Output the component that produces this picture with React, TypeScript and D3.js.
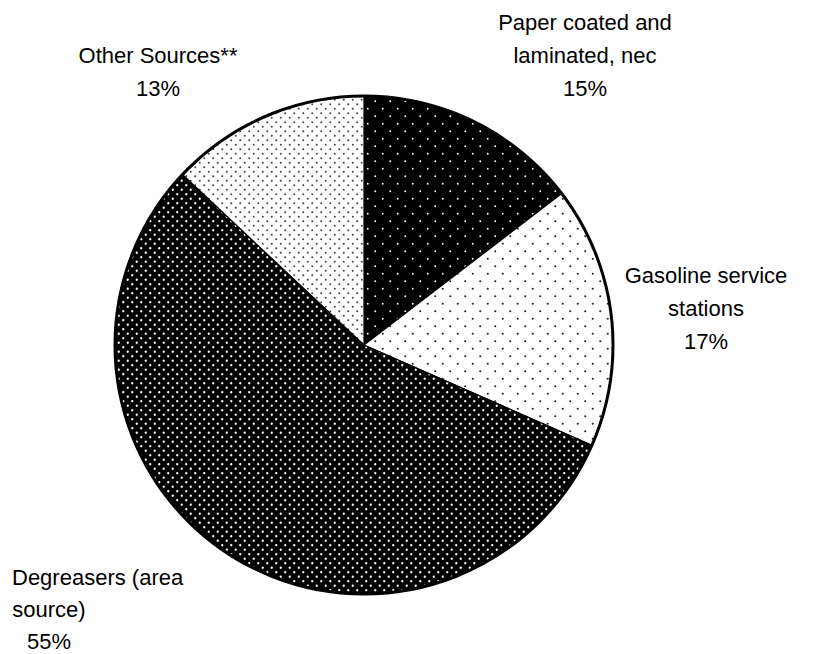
import React from "react";
import * as d3 from "d3";

const categories = [
  "Paper coated and laminated, nec",
  "Gasoline service stations",
  "Degreasers (area source)",
  "Other Sources**",
];
const values = [14.6, 17.0, 55.4, 13.0];
const labelLines = [
  ["Paper coated and", "laminated, nec"],
  ["Gasoline service", "stations"],
  ["Degreasers (area", "source)"],
  ["Other Sources**"],
];

// layout (not data)
const W = 820;
const H = 654;
const CX = 364;
const CY = 345;
const R = 249;
const FONT = 22;
const LH = 33;
const labelLayout = [
  { x: [585, 585, 585], y: 22 },
  { x: [706, 706, 706], y: 275 },
  { x: [12, 49, 49], y: 577, firstAnchor: "start", lh: 32 },
  { x: [158, 158], y: 55 },
];
const patternIds = ["pPaper", "pGas", "pDeg", "pOther"];

export default function App() {
  const pie = d3
    .pie<number>()
    .sort(null)
    .value((d) => d)
    .startAngle(0)
    .endAngle(2 * Math.PI);
  const arcs = pie(values);
  const arc = d3.arc<d3.PieArcDatum<number>>().innerRadius(0).outerRadius(R);

  return (
    <svg
      width={W}
      height={H}
      style={{ position: "absolute", left: 0, top: 0, background: "#fff" }}
      fontFamily="'Liberation Sans', Arial, sans-serif"
    >
      <defs>
        <pattern id="pPaper" width={15} height={15} patternUnits="userSpaceOnUse">
          <rect width={15} height={15} fill="#000" />
          <circle cx={3.75} cy={3.75} r={0.95} fill="#fff" />
          <circle cx={11.25} cy={11.25} r={0.95} fill="#fff" />
        </pattern>
        <pattern id="pGas" width={15} height={15} patternUnits="userSpaceOnUse">
          <rect width={15} height={15} fill="#fff" />
          <circle cx={3.75} cy={3.75} r={1.05} fill="#222" />
          <circle cx={11.25} cy={11.25} r={1.05} fill="#222" />
        </pattern>
        <pattern id="pDeg" width={9} height={9} patternUnits="userSpaceOnUse">
          <rect width={9} height={9} fill="#000" />
          <circle cx={2.25} cy={2.25} r={1.15} fill="#fff" />
          <circle cx={6.75} cy={6.75} r={1.15} fill="#fff" />
        </pattern>
        <pattern id="pOther" width={9} height={9} patternUnits="userSpaceOnUse">
          <rect width={9} height={9} fill="#fff" />
          <circle cx={2.25} cy={2.25} r={1.0} fill="#444" />
          <circle cx={6.75} cy={6.75} r={1.0} fill="#444" />
        </pattern>
      </defs>
      <g transform={`translate(${CX},${CY})`}>
        {arcs.map((a, i) => (
          <path
            key={categories[i]}
            d={arc(a) || ""}
            fill={`url(#${patternIds[i]})`}
            stroke="#000"
            strokeWidth={1.2}
          />
        ))}
        <circle r={R} fill="none" stroke="#000" strokeWidth={3} />
      </g>
      {labelLines.map((lines, i) => {
        const lay = labelLayout[i];
        const lh = lay.lh ?? LH;
        const all = [...lines, `${Math.round(values[i])}%`];
        return (
          <g key={categories[i]}>
            {all.map((t, j) => (
              <text
                key={j}
                x={lay.x[j]}
                y={lay.y + j * lh}
                dy="0.36em"
                fontSize={FONT}
                textAnchor={j === 0 && lay.firstAnchor ? lay.firstAnchor : "middle"}
                fill="#000"
              >
                {t}
              </text>
            ))}
          </g>
        );
      })}
    </svg>
  );
}
